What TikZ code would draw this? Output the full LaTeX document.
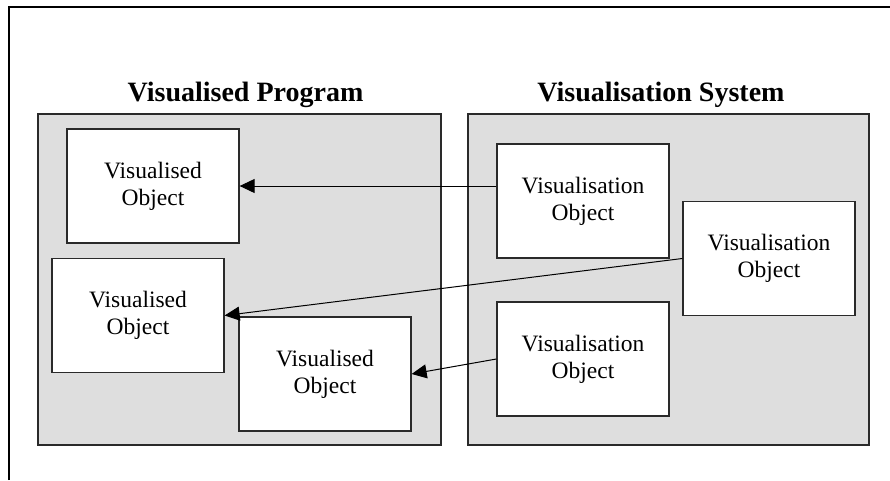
\documentclass[tikz,border=0pt]{standalone}
\usepackage{fontspec}
\setmainfont{Liberation Serif}
\usetikzlibrary{arrows.meta}
\definecolor{panelgray}{HTML}{DEDEDE}
\definecolor{edgegray}{HTML}{2A2A2A}
\begin{document}
\begin{tikzpicture}[x=1pt,y=-1pt,
  panel/.style={fill=panelgray,draw=edgegray,line width=1.3pt},
  objbox/.style={draw=edgegray,fill=white,line width=1.3pt,align=center,
    minimum width=172pt,minimum height=114pt,inner sep=0pt,
    font=\fontsize{23.5}{27}\selectfont},
  heading/.style={font=\fontsize{28}{32}\selectfont\bfseries,anchor=base},
  link/.style={draw=black,line width=1pt,-{Triangle[length=15pt,width=14pt]}}]
\useasboundingbox (0,0) rectangle (890,480);
% outer frame
\draw[line width=2pt] (8.7,480) -- (8.7,6.7) -- (890,6.7);
% the two panels
\path[panel] (38,114) rectangle (441,445);
\path[panel] (468,114) rectangle (869,445);
\node[heading] (hprog) at (245.5,101) {Visualised Program};
\node[heading] (hsys) at (661,101) {Visualisation System};
% program side
\node[objbox] (v1) at (153,186) {Visualised\\Object};
\node[objbox] (v2) at (138,315.5) {Visualised\\Object};
\node[objbox] (v3) at (325,374) {Visualised\\Object};
% visualisation side
\node[objbox] (s1) at (583,201) {Visualisation\\Object};
\node[objbox] (s2) at (769,258.5) {Visualisation\\Object};
\node[objbox] (s3) at (583,359) {Visualisation\\Object};
% links
\draw[link] (s1.west |- v1.east) -- (v1.east);
\draw[link] (s2.west) -- (v2.east);
\draw[link] (s3.west) -- (v3.east);
\end{tikzpicture}
\end{document}
